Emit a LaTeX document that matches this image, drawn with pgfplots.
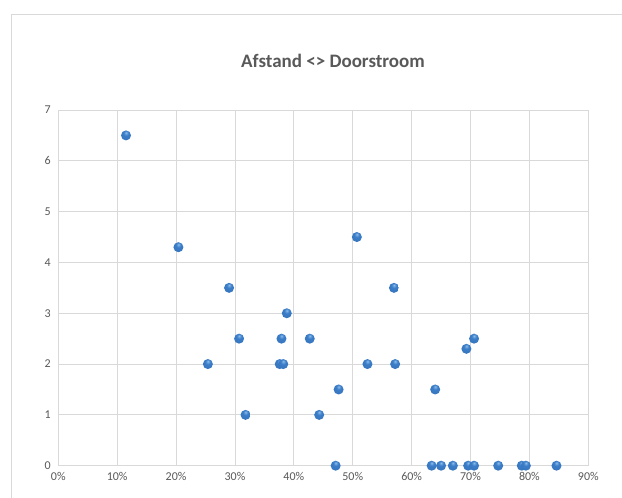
\documentclass[border=0pt]{standalone}
\usepackage{fontspec}
\setmainfont{Carlito}
\usepackage{pgfplots}
\pgfplotsset{compat=1.18}
\definecolor{gridc}{HTML}{D9D9D9}
\definecolor{txt}{HTML}{595959}
\definecolor{dotl}{HTML}{8DBDEB}
\definecolor{dot}{HTML}{3B7DC8}
\definecolor{dotd}{HTML}{1D4C86}
\pgfdeclareradialshading{exball}{\pgfpoint{0bp}{14bp}}{color(0bp)=(dotl); color(12bp)=(dot); color(38bp)=(dot!80!dotd); color(52bp)=(dotd); color(80bp)=(dotd)}
\pgfdeclareplotmark{exball}{%
  \pgfpathcircle{\pgfpointorigin}{\pgfplotmarksize}%
  \pgfshadepath{exball}{0}%
  \pgfusepath{discard}}
\begin{document}
\begin{tikzpicture}[x=1pt,y=1pt]
\useasboundingbox (0,0) rectangle (622,498);
\fill[white] (0,0) rectangle (622,498);
\draw[gridc, line width=0.8pt] (11.5,-20) -- (11.5,484) -- (650,484);
\node[font=\bfseries\fontsize{19}{21}\selectfont, text=txt] at (333,437) {Afstand <> Doorstroom};
\begin{axis}[
  at={(58.3pt,32.3pt)}, anchor=south west,
  scale only axis, width=530pt, height=355.7pt,
  xmin=0, xmax=90, ymin=0, ymax=7,
  xtick={0,10,...,90}, ytick={0,1,...,7},
  grid=major,
  grid style={gridc, line width=0.8pt},
  axis line style={gridc, line width=0.8pt},
  major tick length=0pt,
  tick label style={font=\fontsize{12}{13}\selectfont, text=txt},
  xticklabel={\pgfmathprintnumber{\tick}\%},
  /pgf/number format/assume math mode=true,
  yticklabel style={xshift=-4pt},
  xticklabel style={yshift=-3pt},
  clip=false,
]
\addplot[only marks, mark=exball, mark size=5pt] coordinates {
(11.5,6.5) (20.4,4.3) (29.0,3.5) (38.8,3.0) (50.7,4.5) (57.0,3.5)
(25.4,2) (30.7,2.5) (37.9,2.5) (42.7,2.5) (37.6,2) (38.2,2)
(31.8,1) (44.3,1) (47.6,1.5) (47.1,0) (52.5,2) (57.2,2)
(64.0,1.5) (69.3,2.3) (70.6,2.5)
(63.4,0) (65.0,0) (67.0,0) (69.6,0) (70.6,0) (74.7,0) (78.7,0) (79.4,0) (84.6,0)
};
\end{axis}
\end{tikzpicture}
\end{document}
